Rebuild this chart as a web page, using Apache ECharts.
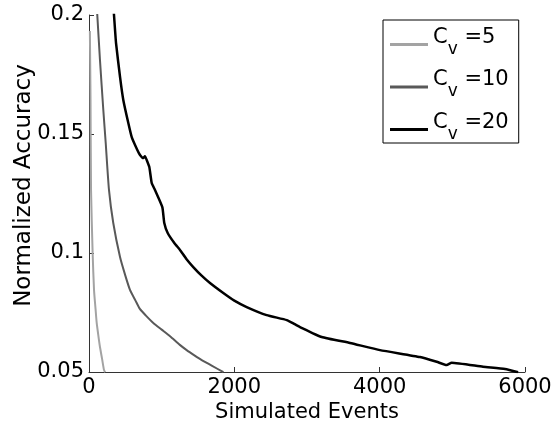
<!DOCTYPE html>
<html>
<head>
<meta charset="utf-8">
<script src="https://cdn.jsdelivr.net/npm/echarts@6/dist/echarts.min.js"></script>
<style>
  html, body { margin: 0; padding: 0; background: #fff; }
  #chart { width: 560px; height: 429px; }
</style>
</head>
<body>
<div id="chart"></div>
<script>
// values
var cv5X = [12, 17, 21, 28, 50, 69, 90, 106, 130, 151, 180, 206, 222];
var cv5Y = [0.1933, 0.178, 0.1643, 0.1265, 0.100, 0.0845, 0.0765, 0.0706, 0.065, 0.0605, 0.0555, 0.0509, 0.0499];

var cv10X = [94, 114, 151, 197, 230, 275, 334, 427, 500, 564, 640, 700, 780, 885, 1000, 1115, 1250, 1344, 1450, 1551, 1688, 1850];
var cv10Y = [0.21, 0.2, 0.1811, 0.1601, 0.1462, 0.1265, 0.1126, 0.0983, 0.0905, 0.0845, 0.0800, 0.0765, 0.0738, 0.0706, 0.0678, 0.0650, 0.0614, 0.0592, 0.0570, 0.0550, 0.0527, 0.0499];

var cv20X = [320, 344, 372, 427, 472, 541, 588, 665, 702, 747, 770, 794, 830, 863, 908, 1009, 1036, 1083, 1174, 1252, 1340, 1435, 1550, 1665, 1848, 2000, 2170, 2445, 2721, 2830, 2904, 3202, 3592, 4004, 4555, 4785, 4922, 4991, 5422, 5725, 5905];
var cv20Y = [0.21, 0.2, 0.1882, 0.1740, 0.1643, 0.1546, 0.1487, 0.1433, 0.1412, 0.1399, 0.1407, 0.1391, 0.1361, 0.1294, 0.1265, 0.1193, 0.1126, 0.1084, 0.1042, 0.1013, 0.0975, 0.0941, 0.0905, 0.0874, 0.0832, 0.0800, 0.0773, 0.0739, 0.0718, 0.0701, 0.0689, 0.0647, 0.0622, 0.0592, 0.0563, 0.0543, 0.0529, 0.0539, 0.0522, 0.0513, 0.0499];

var names = ['C_v =5', 'C_v =10', 'C_v =20'];
var colors = ['#a3a3a3', '#595959', '#000000'];

function pairs(xs, ys) {
    var out = [];
    for (var i = 0; i < xs.length; i++) {
        out.push([xs[i], ys[i]]);
    }
    return out;
}

var myChart = echarts.init(document.getElementById('chart'));
var font = 'DejaVu Sans';

var option = {
    color: colors,
    animation: false,
    textStyle: { fontFamily: font, color: '#000' },
    grid: { left: 89, right: 35, top: 15, bottom: 57, outerBoundsMode: 'none' },
    legend: {
        orient: 'vertical',
        left: 383,
        top: 20,
        padding: [7, 10, 0, 7],
        itemGap: 11.5,
        itemWidth: 38,
        itemHeight: 3,
        icon: 'rect',
        borderColor: '#000',
        borderWidth: 1,
        data: names,
        formatter: function (name) {
            var v = name.split('=')[1];
            return '{c|C}{v|v}{e| =' + v + '}';
        },
        textStyle: {
            fontFamily: font,
            color: '#000',
            rich: {
                c: { fontSize: 21, fontFamily: font, padding: [0, 0, 14, 0] },
                v: { fontSize: 17, fontFamily: font, padding: [10, 0, 0, 0] },
                e: { fontSize: 21, fontFamily: font, padding: [0, 0, 14, 0] }
            }
        }
    },
    xAxis: {
        type: 'value',
        min: 0,
        max: 6000,
        interval: 2000,
        name: 'Simulated Events',
        nameLocation: 'middle',
        nameGap: 30,
        nameMoveOverlap: false,
        nameTextStyle: { fontSize: 21, fontFamily: font, color: '#000' },
        axisLine: { lineStyle: { color: '#333', width: 1 } },
        axisTick: { inside: true, length: 5, lineStyle: { color: '#333' } },
        axisLabel: {
            fontSize: 21, fontFamily: font, color: '#000', margin: 5,
            formatter: function (v) { return String(v); }
        },
        splitLine: { show: false }
    },
    yAxis: {
        type: 'value',
        min: 0.05,
        max: 0.2,
        interval: 0.05,
        name: 'Normalized Accuracy',
        nameLocation: 'middle',
        nameGap: 53,
        nameMoveOverlap: false,
        nameTextStyle: { fontSize: 23, fontFamily: font, color: '#000', padding: [0, 0, 0, 16] },
        axisLine: { show: true, lineStyle: { color: '#333', width: 1 } },
        axisTick: { show: true, inside: true, length: 5, lineStyle: { color: '#333' } },
        axisLabel: { fontSize: 21, fontFamily: font, color: '#000', margin: 5 },
        splitLine: { show: false }
    },
    series: [
        {
            name: names[0],
            type: 'line',
            symbol: 'none',
            smooth: 0.2,
            clip: true,
            lineStyle: { width: 2, color: colors[0] },
            data: pairs(cv5X, cv5Y)
        },
        {
            name: names[1],
            type: 'line',
            symbol: 'none',
            smooth: 0.2,
            clip: true,
            lineStyle: { width: 2, color: colors[1] },
            data: pairs(cv10X, cv10Y)
        },
        {
            name: names[2],
            type: 'line',
            symbol: 'none',
            smooth: 0.15,
            clip: true,
            lineStyle: { width: 2.5, color: colors[2] },
            data: pairs(cv20X, cv20Y)
        }
    ]
};

myChart.setOption(option);
</script>
</body>
</html>
